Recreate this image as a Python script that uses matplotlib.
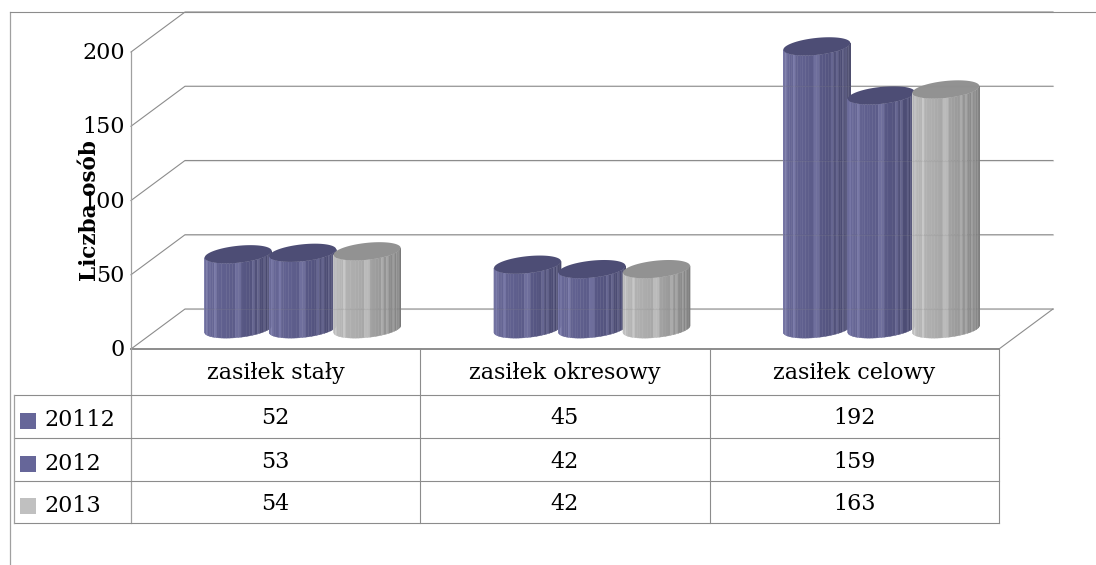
import matplotlib
matplotlib.use("Agg")
import matplotlib.pyplot as plt
import numpy as np
from matplotlib.collections import PolyCollection
from matplotlib.colors import LinearSegmentedColormap

categories = ["zasiłek stały", "zasiłek okresowy", "zasiłek celowy"]
series_names = ["20112", "2012", "2013"]
values_20112 = [52, 45, 192]
values_2012 = [53, 42, 159]
values_2013 = [54, 42, 163]
y_ticks = [0, 50, 100, 150, 200]

series_values = [values_20112, values_2012, values_2013]
swatch_colors = ["#666699", "#666699", "#c0c0c0"]
side_colors = [
    ["#6e6e9e", "#5a5a88", "#414163"],
    ["#6e6e9e", "#5a5a88", "#414163"],
    ["#c0c0c0", "#a6a6a6", "#757575"],
]
top_colors = ["#4d4d75", "#4d4d75", "#929292"]
LINE = "#8c8c8c"
HIGHLIGHTS = [1, 4, 9, 17, 18, 23, 25, 28, 30, 32, 34]

# one axes over the whole figure, x in category units, y in value units
X_PER_PX = 3 / 868
Y_PER_PX = 200 / 297
W, H = 1096, 565
DEPTH_X = 54 * X_PER_PX
DEPTH_Y = 40 * Y_PER_PX
ROW_Y = [-46, -89, -132, -174]  # table lines below the floor, in px
FONT = "DejaVu Serif"


def px_y(p):
    return p * Y_PER_PX


def px_x(p):
    return p * X_PER_PX


def cylinder(ax, cx, value, sides, top, z):
    a, b, s = 33.5, 8.5, 0.1
    base = DEPTH_Y / 2
    top_base = base - px_y(2.5)
    cmap = LinearSegmentedColormap.from_list("c", sides)
    t = np.linspace(np.pi, 0, 37)
    ex = a * np.cos(t)
    xs = cx + px_x(ex)
    low = base + px_y(-b * np.sin(t) + s * ex)
    high = top_base + value + px_y(-b * np.sin(t) + s * ex)
    polys = []
    cols = []
    for i in range(len(t) - 1):
        polys.append([(xs[i], low[i]), (xs[i + 1], low[i + 1]), (xs[i + 1], high[i + 1]), (xs[i], high[i])])
        c = np.array(cmap(i / (len(t) - 2)))
        if i in HIGHLIGHTS:
            c[:3] = np.minimum(c[:3] + 0.08, 1)
        cols.append(c)
    ax.add_collection(PolyCollection(polys, facecolors=cols, edgecolors=cols, linewidths=0.3, zorder=z))
    tt = np.linspace(0, 2 * np.pi, 80)
    tx = cx + px_x(a * np.cos(tt))
    ty = top_base + value + px_y(b * np.sin(tt) + s * a * np.cos(tt))
    ax.fill(tx, ty, color=top, lw=0, zorder=z + 0.1)


fig = plt.figure(figsize=(10.96, 5.65), dpi=100)
ax = fig.add_axes([0, 0, 1, 1])
ax.set_xlim(-131 * X_PER_PX, (W - 131) * X_PER_PX)
ax.set_ylim(-(H - 349) * Y_PER_PX, 349 * Y_PER_PX)
ax.axis("off")

# chart frame
ax.plot([px_x(-121), px_x(-121)], [px_y(-216), px_y(337)], color="#a0a0a0", lw=0.9)
ax.plot([px_x(-121), px_x(W - 131)], [px_y(337), px_y(337)], color=LINE, lw=0.8)

# walls and gridlines
for v in y_ticks:
    ax.plot([0, DEPTH_X, 3 + DEPTH_X], [v, v + DEPTH_Y, v + DEPTH_Y], color=LINE, lw=0.8, zorder=1)
ax.plot([0, 3], [0, 0], color=LINE, lw=1.4, zorder=1)
ax.plot([3, 3 + DEPTH_X], [0, DEPTH_Y], color=LINE, lw=0.8, zorder=1)
ax.plot([0, 0], [px_y(ROW_Y[-1]), 200], color="#a0a0a0", lw=0.9, zorder=1)
for v in y_ticks:
    ax.text(px_x(-6), v - px_y(1), str(v), ha="right", va="center", fontsize=16, family=FONT)

# cylinders
for i in range(len(categories)):
    for j, vals in enumerate(series_values):
        cx = i + 0.5 + DEPTH_X / 2 + (j - 1) * px_x(64.5)
        cylinder(ax, cx, vals[i], side_colors[j], top_colors[j], 3 + j)
for v in y_ticks:
    ax.plot([DEPTH_X, 3 + DEPTH_X], [v + DEPTH_Y, v + DEPTH_Y], color=LINE, lw=0.8, alpha=0.18, zorder=8)

# data table
left = px_x(-117.5)
for r in ROW_Y:
    ax.plot([left, 3], [px_y(r), px_y(r)], color=LINE, lw=0.8, zorder=2)
ax.plot([left, left], [px_y(ROW_Y[0]), px_y(ROW_Y[-1])], color="#a0a0a0", lw=0.9)
for c in range(1, 4):
    ax.plot([c, c], [0, px_y(ROW_Y[-1])], color=LINE, lw=0.8, zorder=2)
for i, name in enumerate(categories):
    ax.text(i + 0.5, px_y(-24), name, ha="center", va="center", fontsize=16, family=FONT)
for j, name in enumerate(series_names):
    mid = px_y((ROW_Y[j] + ROW_Y[j + 1]) / 2)
    ax.plot(px_x(-102.5), mid - px_y(4), marker="s", ms=12, mew=0, color=swatch_colors[j], ls="none")
    ax.text(px_x(-87), mid - px_y(4), name, ha="left", va="center", fontsize=16, family=FONT)
    for i in range(len(categories)):
        ax.text(i + 0.5, mid - px_y(2), str(series_values[j][i]), ha="center", va="center", fontsize=16, family=FONT)

ax.text(px_x(-41), 100 + px_y(-10), "Liczba osób", rotation=90, ha="center", va="center",
        fontsize=15.5, fontweight="bold", family=FONT)

fig.savefig("out.png", dpi=100)
